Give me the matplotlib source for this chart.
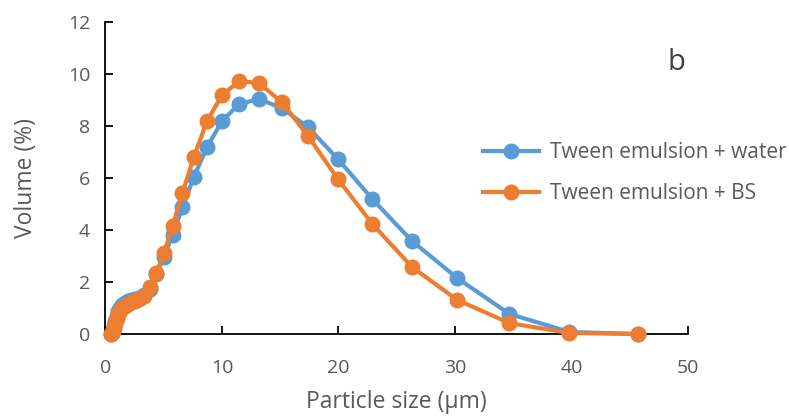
import matplotlib
matplotlib.use("Agg")
import matplotlib.pyplot as plt

# particle size bins (um), Mastersizer-style log spacing
sizes = [0.479, 0.55, 0.631, 0.724, 0.832, 0.955, 1.096, 1.259, 1.445, 1.66,
         1.905, 2.188, 2.512, 2.884, 3.311, 3.802, 4.365, 5.012, 5.754, 6.607,
         7.586, 8.71, 10.0, 11.482, 13.183, 15.136, 17.378, 19.953, 22.909,
         26.303, 30.2, 34.674, 39.811, 45.709]

vol_water = [0.0, 0.05, 0.15, 0.3, 0.5, 0.7, 0.88, 1.02, 1.12, 1.2,
             1.27, 1.32, 1.36, 1.4, 1.5, 1.75, 2.3, 2.95, 3.81, 4.88,
             6.04, 7.19, 8.19, 8.85, 9.04, 8.69, 7.96, 6.73, 5.19,
             3.58, 2.15, 0.77, 0.08, 0.0]

vol_bs = [0.0, 0.03, 0.12, 0.25, 0.42, 0.6, 0.77, 0.9, 1.0, 1.08,
          1.15, 1.22, 1.28, 1.33, 1.45, 1.8, 2.35, 3.1, 4.15, 5.42,
          6.81, 8.19, 9.19, 9.73, 9.65, 8.92, 7.62, 5.96, 4.23,
          2.58, 1.31, 0.42, 0.04, 0.0]

labels = ["Tween emulsion + water", "Tween emulsion + BS"]
xticks = [0, 10, 20, 30, 40, 50]
yticks = [0, 2, 4, 6, 8, 10, 12]

plt.rcParams["font.family"] = ["Open Sans", "DejaVu Sans"]
grey = "#595959"

fig = plt.figure(figsize=(7.89, 4.17), dpi=100)
ax = fig.add_axes([0.1337, 0.199, 0.7383, 0.748])

ax.plot(sizes, vol_water, color="#5B9BD5", lw=3, marker="o", ms=10.5,
        label=labels[0], zorder=3, clip_on=False)
ax.plot(sizes, vol_bs, color="#ED7D31", lw=3, marker="o", ms=10.5,
        label=labels[1], zorder=4, clip_on=False)

ax.set_xlim(0, 50)
ax.set_ylim(0, 12)
ax.set_xticks(xticks)
ax.set_yticks(yticks)

for side in ["top", "right"]:
    ax.spines[side].set_visible(False)
for side in ["left", "bottom"]:
    ax.spines[side].set_linewidth(1.3)
    ax.spines[side].set_color("black")

ax.tick_params(direction="in", length=6, width=1.3, colors="black",
               labelcolor=grey, labelsize=14)
ax.tick_params(axis="x", pad=18)
ax.tick_params(axis="y", pad=11)

ax.set_xlabel("Particle size (µm)", fontsize=16.5, color=grey, labelpad=9)
ax.set_ylabel("Volume (%)", fontsize=16.5, color=grey, labelpad=21.5)

ax.text(676 / 789, 1 - 62 / 417, "b", transform=fig.transFigure, fontsize=21,
        color="#404040", ha="center", va="center")

leg = ax.legend(loc="center left", bbox_to_anchor=(483 / 789, 1 - 173 / 417),
                bbox_transform=fig.transFigure, frameon=False, fontsize=15,
                handlelength=2.7, handletextpad=0.5, labelspacing=0.96,
                borderpad=0, borderaxespad=0)
for t in leg.get_texts():
    t.set_color(grey)

fig.savefig("out.png", dpi=100)
